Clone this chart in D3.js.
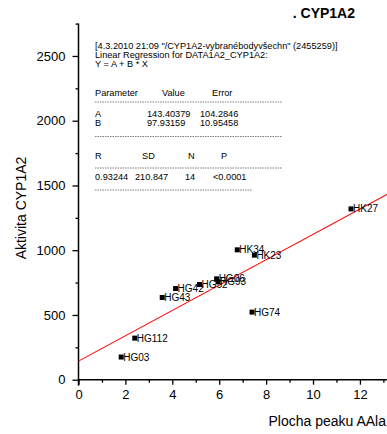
<!DOCTYPE html>
<html><head><meta charset="utf-8">
<script src="https://cdn.jsdelivr.net/npm/d3@7"></script>
<style>
html,body{margin:0;padding:0;background:#fff;}
svg{display:block;font-family:"Liberation Sans",Arial,sans-serif;}
</style></head>
<body>
<svg id="chart" width="387" height="434"></svg>
<script>
const labels = ["HK27","HK34","HK23","HG06","HG93","HG52","HG42","HG43","HG74","HG112","HG03"];
const xValues = [11.62,6.77,7.50,5.89,5.95,5.16,4.14,3.57,7.40,2.40,1.82];
const yValues = [1319,1003,962,779,756,735,704,635,522,321,175];
const fitA = 143.40379, fitB = 97.93159;
const xMajorTicks = [0,2,4,6,8,10,12];
const xMinorTicks = [1,3,5,7,9,11,13];
const yMajorTicks = [0,500,1000,1500,2000,2500];
const yMinorTicks = [250,750,1250,1750,2250,2750];
const title = ". CYP1A2";
const xTitle = "Plocha peaku AAla";
const yTitle = "Aktivita CYP1A2";
const headerLines = [
  "[4.3.2010 21:09 \"/CYP1A2-vybranébodyvšechn\" (2455259)]",
  "Linear Regression for DATA1A2_CYP1A2:",
  "Y = A + B * X"
];
const paramHeader = ["Parameter","Value","Error"];
const paramRows = [["A","143.40379","104.2846"],["B","97.93159","10.95458"]];
const statHeader = ["R","SD","N","P"];
const statRow = ["0.93244","210.847","14","<0.0001"];

const svg = d3.select("#chart");
const x = d3.scaleLinear().domain([0,13.15]).range([78.5,386.9]);
const y = d3.scaleLinear().domain([0,2750]).range([379.7,23.6]);

// axes
const xAxis = svg.append("g").attr("transform",`translate(0,${y(0)})`)
  .call(d3.axisBottom(x).tickValues(xMajorTicks).tickSize(5).tickPadding(5).tickFormat(d3.format("d")));
const xMinor = svg.append("g").attr("transform",`translate(0,${y(0)})`)
  .call(d3.axisBottom(x).tickValues(xMinorTicks).tickSize(3).tickFormat(""));
const yAxis = svg.append("g").attr("transform",`translate(${x(0)},0)`)
  .call(d3.axisLeft(y).tickValues(yMajorTicks).tickSize(6).tickPadding(7).tickFormat(d3.format("d")));
const yMinor = svg.append("g").attr("transform",`translate(${x(0)},0)`)
  .call(d3.axisLeft(y).tickValues(yMinorTicks).tickSize(3).tickFormat(""));
[xAxis,xMinor,yAxis,yMinor].forEach(g=>{
  g.selectAll(".domain").attr("stroke","#000").attr("stroke-width",1.5);
  g.selectAll(".tick line").attr("stroke","#000").attr("stroke-width",1.3);
  g.selectAll("text").attr("font-size",13).attr("fill","#000").attr("font-family","Liberation Sans, Arial, sans-serif");
});
xMinor.select(".domain").remove(); yMinor.select(".domain").remove();
yAxis.select(".domain").attr("d",`M0,${y(2750)}V${y(0)+6}`);
xAxis.select(".domain").attr("d",`M${x(0)},0H${x(13.15)}`);

// titles
svg.append("text").attr("x",355).attr("y",18).attr("text-anchor","end")
  .attr("font-size",14).attr("font-weight","bold").text(title);
svg.append("text").attr("x",386).attr("y",426).attr("text-anchor","end")
  .attr("font-size",14).text(xTitle);
svg.append("text").attr("transform","translate(26,208) rotate(-90)").attr("text-anchor","middle")
  .attr("font-size",14).text(yTitle);

// regression line
svg.append("line").attr("x1",x(0)).attr("y1",y(fitA))
  .attr("x2",x(13.15)).attr("y2",y(fitA+fitB*13.15))
  .attr("stroke","#ff0000").attr("stroke-width",1.1);

// points
const pts = labels.map((l,i)=>({l,x:xValues[i],y:yValues[i]}));
svg.selectAll("rect.pt").data(pts).enter().append("rect").attr("class","pt")
  .attr("x",d=>x(d.x)-2.5).attr("y",d=>y(d.y)-2.5).attr("width",5).attr("height",5).attr("fill","#000");
svg.selectAll("text.pl").data(pts).enter().append("text").attr("class","pl")
  .attr("x",d=>x(d.x)+2).attr("y",d=>y(d.y)+3.5).attr("font-size",10).text(d=>d.l);

// regression text box
const tb = svg.append("g").attr("font-size",9.2).attr("fill","#000");
headerLines.forEach((t,i)=>tb.append("text").attr("x",95).attr("y",49+i*9).text(t));
const pcols=[95,162,212];
paramHeader.forEach((t,i)=>tb.append("text").attr("x",pcols[i]).attr("y",96).text(t));
const vcols=[95,147,200];
paramRows.forEach((r,j)=>r.forEach((t,i)=>tb.append("text").attr("x",vcols[i]).attr("y",117+j*8.5).text(t)));
const scols=[95,142,188,221];
statHeader.forEach((t,i)=>tb.append("text").attr("x",scols[i]).attr("y",159).text(t));
const rcols=[95,135,185,213];
statRow.forEach((t,i)=>tb.append("text").attr("x",rcols[i]).attr("y",180).text(t));
[[102,282],[136.5,282],[168,282],[190,252]].forEach(([yy,x2])=>
  tb.append("line").attr("x1",95).attr("x2",x2).attr("y1",yy).attr("y2",yy)
    .attr("stroke","#444").attr("stroke-width",0.7).attr("stroke-dasharray","1.5,1"));
</script>
</body></html>
